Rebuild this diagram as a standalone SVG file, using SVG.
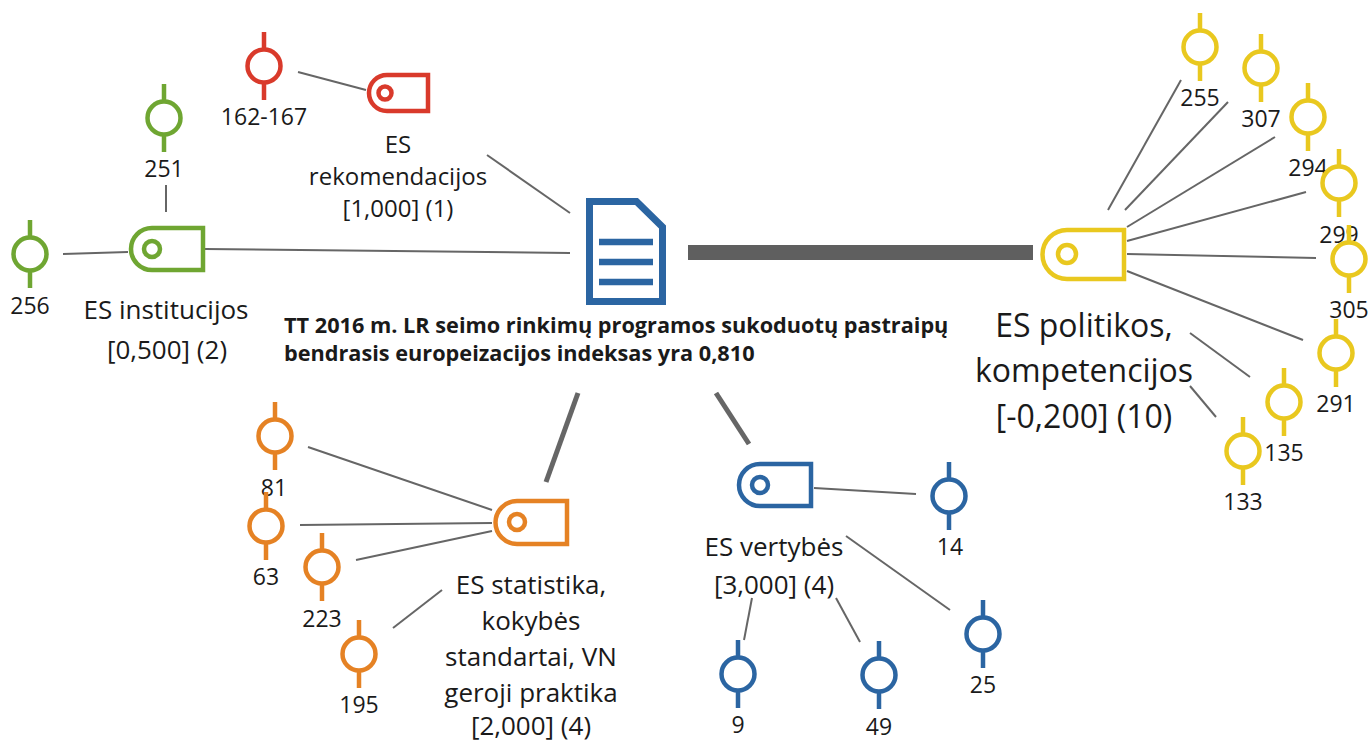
<svg xmlns="http://www.w3.org/2000/svg" width="1370" height="744" viewBox="0 0 1370 744">
<style>
text{font-family:"Open Sans","Noto Sans","DejaVu Sans",sans-serif;fill:#1a1a1a;text-anchor:middle;font-size:23px}
.r{font-size:24px}
.m{font-size:26px}
.l{font-size:32px}
.b{font-weight:700;font-size:21.700px;text-anchor:start}
.n{fill:#fff;stroke-width:4.500;fill-opacity:0}
.s{fill:none;stroke-width:4.500}
.red{stroke:#d93a2b}.green{stroke:#6fa632}.yellow{stroke:#e9c81f}.orange{stroke:#e58224}.blue{stroke:#2b65a2}
#connectors line{stroke:#666;stroke-width:2}
</style>
<defs>
<g id="pin"><circle class="n" r="16.500"/><path class="s" d="M0-34V-17M0 17V34"/></g>
</defs>
<rect width="1370" height="744" fill="#fff"/>
<g id="connectors">
<line x1="298" y1="72" x2="366" y2="90"/>
<line x1="487" y1="155" x2="570" y2="213"/>
<line x1="166" y1="185" x2="166" y2="212"/>
<line x1="63" y1="254" x2="128" y2="252"/>
<line x1="205" y1="249" x2="570" y2="253"/>
<line x1="688" y1="252.500" x2="1033" y2="252.500" style="stroke:#5f5f5f;stroke-width:15"/>
<line x1="578" y1="393" x2="546" y2="482" style="stroke-width:5"/>
<line x1="716" y1="393" x2="749" y2="444" style="stroke-width:5"/>
<line x1="1108" y1="210" x2="1181" y2="80"/>
<line x1="1125" y1="210" x2="1228" y2="102"/>
<line x1="1127" y1="227" x2="1275" y2="137"/>
<line x1="1127" y1="241" x2="1306" y2="192"/>
<line x1="1127" y1="254" x2="1316" y2="258"/>
<line x1="1127" y1="271" x2="1303" y2="340"/>
<line x1="1190" y1="333" x2="1250" y2="377"/>
<line x1="1190" y1="386" x2="1216" y2="417"/>
<line x1="308" y1="447" x2="492" y2="510"/>
<line x1="300" y1="525" x2="492" y2="523"/>
<line x1="356" y1="560" x2="492" y2="531"/>
<line x1="393" y1="628" x2="442" y2="590"/>
<line x1="814" y1="488" x2="916" y2="494"/>
<line x1="846" y1="536" x2="950" y2="610"/>
<line x1="752" y1="598" x2="744" y2="640"/>
<line x1="836" y1="598" x2="860" y2="642"/>
</g>
<g id="document">
<path d="M589.500 201.500H636.500L662.500 227V301.500H589.500Z" fill="none" stroke="#2b65a2" stroke-width="7"/>
<path d="M599 242H653M599 262H653M599 282H653" fill="none" stroke="#2b65a2" stroke-width="6.500"/>
<text class="b" x="284" y="333">TT 2016 m. LR seimo rinkimų programos sukoduotų pastraipų</text>
<text class="b" x="284" y="361">bendrasis europeizacijos indeksas yra 0,810</text>
</g>
<g id="tag-rekomendacijos">
<path class="s red" d="M387 75H428V111H387A18 18 0 0 1 387 75Z"/><circle class="s red" cx="385" cy="93" r="6.500"/>
<text class="r" x="398" y="153">ES</text><text class="r" x="398" y="185">rekomendacijos</text><text class="r" x="398" y="217">[1,000] (1)</text>
</g>
<g id="tag-institucijos">
<path class="s green" d="M152 228H203V270H152A21 21 0 0 1 152 228Z"/><circle class="s green" cx="152" cy="249" r="8"/>
<text class="m" x="166" y="319">ES institucijos</text><text class="m" x="167" y="359">[0,500] (2)</text>
</g>
<g id="tag-politikos">
<path class="s yellow" d="M1067 230H1124V279H1067A24.500 24.500 0 0 1 1067 230Z"/><circle class="s yellow" cx="1067" cy="254" r="9"/>
<text class="l" x="1084" y="337">ES politikos,</text><text class="l" x="1084" y="382">kompetencijos</text><text class="l" x="1084" y="428">[-0,200] (10)</text>
</g>
<g id="tag-statistika">
<path class="s orange" d="M517 501H567V544H517A21.500 21.500 0 0 1 517 501Z"/><circle class="s orange" cx="517" cy="522" r="8"/>
<text class="m" x="531" y="594">ES statistika,</text><text class="m" x="531" y="630">kokybės</text><text class="m" x="531" y="666">standartai, VN</text><text class="m" x="531" y="702">geroji praktika</text><text class="m" x="531" y="735">[2,000] (4)</text>
</g>
<g id="tag-vertybes">
<path class="s blue" d="M760 464H811V506H760A21 21 0 0 1 760 464Z"/><circle class="s blue" cx="760" cy="485" r="8"/>
<text class="m" x="774" y="556">ES vertybės</text><text class="m" x="774" y="594">[3,000] (4)</text>
</g>
<g id="pin-162-167"><use href="#pin" x="264" y="66" class="red"/><text x="264" y="125">162-167</text></g>
<g id="pin-251"><use href="#pin" x="164" y="118" class="green"/><text x="164" y="177">251</text></g>
<g id="pin-256"><use href="#pin" x="30" y="254" class="green"/><text x="30" y="314">256</text></g>
<g id="pin-255"><use href="#pin" x="1200" y="47" class="yellow"/><text x="1200" y="106">255</text></g>
<g id="pin-307"><use href="#pin" x="1261" y="68" class="yellow"/><text x="1261" y="127">307</text></g>
<g id="pin-294"><use href="#pin" x="1308" y="117" class="yellow"/><text x="1308" y="176">294</text></g>
<g id="pin-299"><use href="#pin" x="1339" y="183" class="yellow"/><text x="1339" y="243">299</text></g>
<g id="pin-305"><use href="#pin" x="1349" y="259" class="yellow"/><text x="1349" y="318">305</text></g>
<g id="pin-291"><use href="#pin" x="1336" y="353" class="yellow"/><text x="1336" y="412">291</text></g>
<g id="pin-135"><use href="#pin" x="1284" y="402" class="yellow"/><text x="1284" y="461">135</text></g>
<g id="pin-133"><use href="#pin" x="1243" y="451" class="yellow"/><text x="1243" y="510">133</text></g>
<g id="pin-81"><use href="#pin" x="275" y="436" class="orange"/><text x="274" y="496">81</text></g>
<g id="pin-63"><use href="#pin" x="266" y="526" class="orange"/><text x="266" y="585">63</text></g>
<g id="pin-223"><use href="#pin" x="322" y="567" class="orange"/><text x="322" y="627">223</text></g>
<g id="pin-195"><use href="#pin" x="359" y="654" class="orange"/><text x="359" y="713">195</text></g>
<g id="pin-14"><use href="#pin" x="949" y="496" class="blue"/><text x="950" y="555">14</text></g>
<g id="pin-25"><use href="#pin" x="983" y="634" class="blue"/><text x="983" y="693">25</text></g>
<g id="pin-9"><use href="#pin" x="738" y="674" class="blue"/><text x="738" y="733">9</text></g>
<g id="pin-49"><use href="#pin" x="879" y="675" class="blue"/><text x="879" y="735">49</text></g>
</svg>
